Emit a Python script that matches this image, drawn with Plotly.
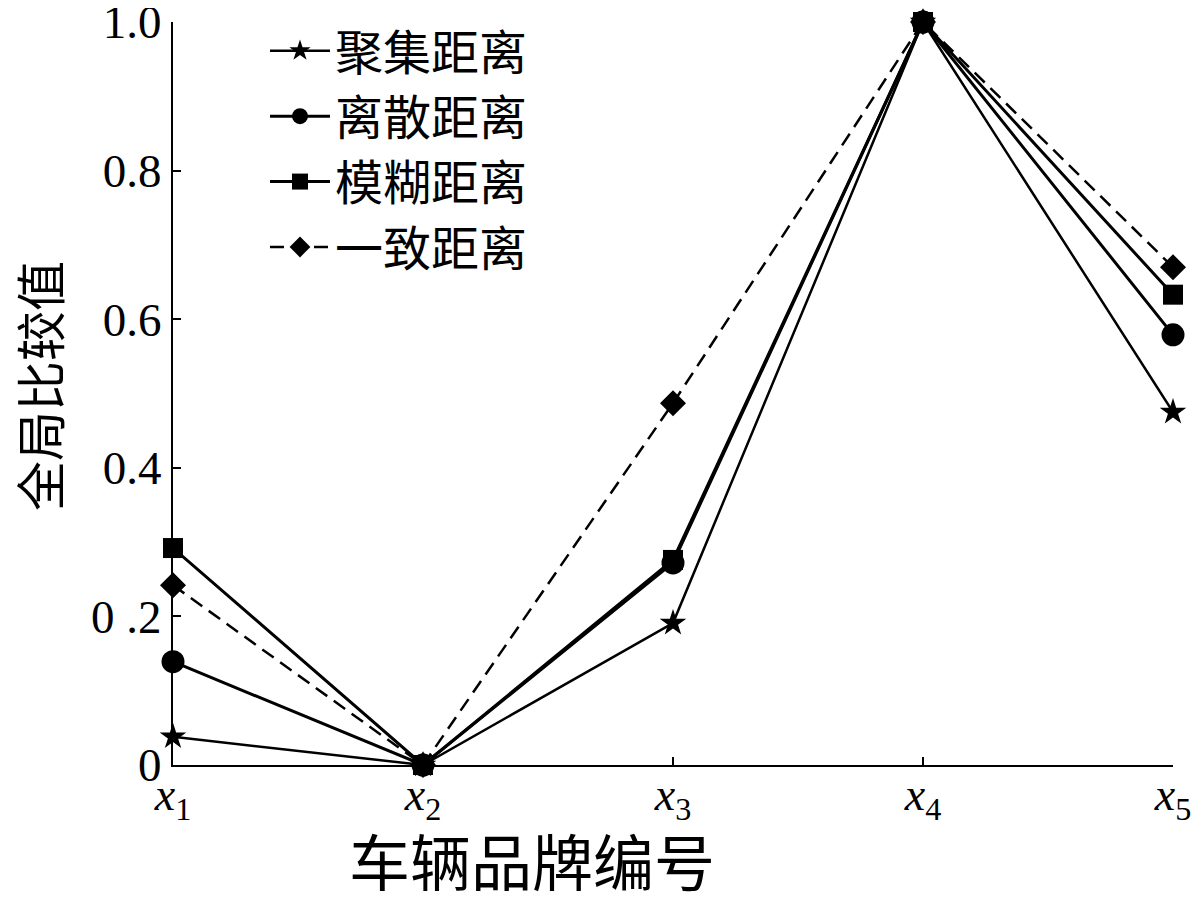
import plotly.graph_objects as go

categories = [1, 2, 3, 4, 5]
tick_text_x = ["<i>x</i><sub>1</sub>", "<i>x</i><sub>2</sub>", "<i>x</i><sub>3</sub>",
               "<i>x</i><sub>4</sub>", "<i>x</i><sub>5</sub>"]
y_tick_vals = [0, 0.2, 0.4, 0.6, 0.8, 1.0]
y_tick_text = ["0", "0 .2", "0.4", "0.6", "0.8", "1.0"]

series_names = ["聚集距离", "离散距离", "模糊距离", "一致距离"]
juji = [0.038, 0.0, 0.191, 1.0, 0.475]
lisan = [0.139, 0.0, 0.272, 1.0, 0.579]
mohu = [0.292, 0.0, 0.276, 1.0, 0.633]
yizhi = [0.242, 0.0, 0.487, 1.0, 0.670]

serif = "Liberation Serif, Noto Sans CJK SC"

styles = [
    dict(symbol="star", size=20, dash="solid", width=2.5),
    dict(symbol="circle", size=23, dash="solid", width=3),
    dict(symbol="square", size=20, dash="solid", width=3),
    dict(symbol="diamond", size=20, dash="14px,8px", width=2.5),
]

fig = go.Figure()
for name, vals, st in zip(series_names, [juji, lisan, mohu, yizhi], styles):
    fig.add_trace(go.Scatter(
        x=categories, y=vals, name=name, mode="lines+markers",
        line=dict(color="black", width=st["width"], dash=st["dash"]),
        marker=dict(symbol=st["symbol"], size=st["size"], color="black"),
        cliponaxis=False,
    ))

fig.update_layout(
    width=1200, height=901,
    margin=dict(l=165, r=35, t=14, b=144, autoexpand=False),
    paper_bgcolor="white", plot_bgcolor="white",
    font=dict(family=serif, color="black", size=46),
    showlegend=True,
    legend=dict(x=0.092, y=1.012, xanchor="left", yanchor="top",
                bgcolor="rgba(0,0,0,0)", font=dict(size=48, family=serif),
                itemwidth=60, tracegroupgap=0),
)

fig.update_xaxes(
    range=[1, 5], tickvals=categories, ticktext=tick_text_x,
    showline=True, linecolor="black", linewidth=2,
    ticks="inside", ticklen=8, tickcolor="black", tickwidth=2,
    showgrid=False, zeroline=False, ticklabeloverflow="allow",
    ticklabelstandoff=-12, automargin=False,
    tickfont=dict(family=serif, size=46),
)
fig.update_yaxes(
    range=[0, 1], tickvals=y_tick_vals, ticktext=y_tick_text,
    showline=True, linecolor="black", linewidth=2,
    ticks="inside", ticklen=8, tickcolor="black", tickwidth=2,
    showgrid=False, zeroline=False, ticklabeloverflow="allow",
    automargin=False,
    tickfont=dict(family=serif, size=47),
)

fig.add_annotation(text="车辆品牌编号", xref="paper", yref="paper",
                   x=0.359, y=-0.135, xanchor="center", yanchor="middle",
                   showarrow=False, font=dict(family=serif, size=61))
fig.add_annotation(text="全局比较值", xref="paper", yref="paper",
                   x=-0.13, y=0.51, xanchor="center", yanchor="middle",
                   textangle=-90, showarrow=False, font=dict(family=serif, size=50))

fig.write_html("out.html")
